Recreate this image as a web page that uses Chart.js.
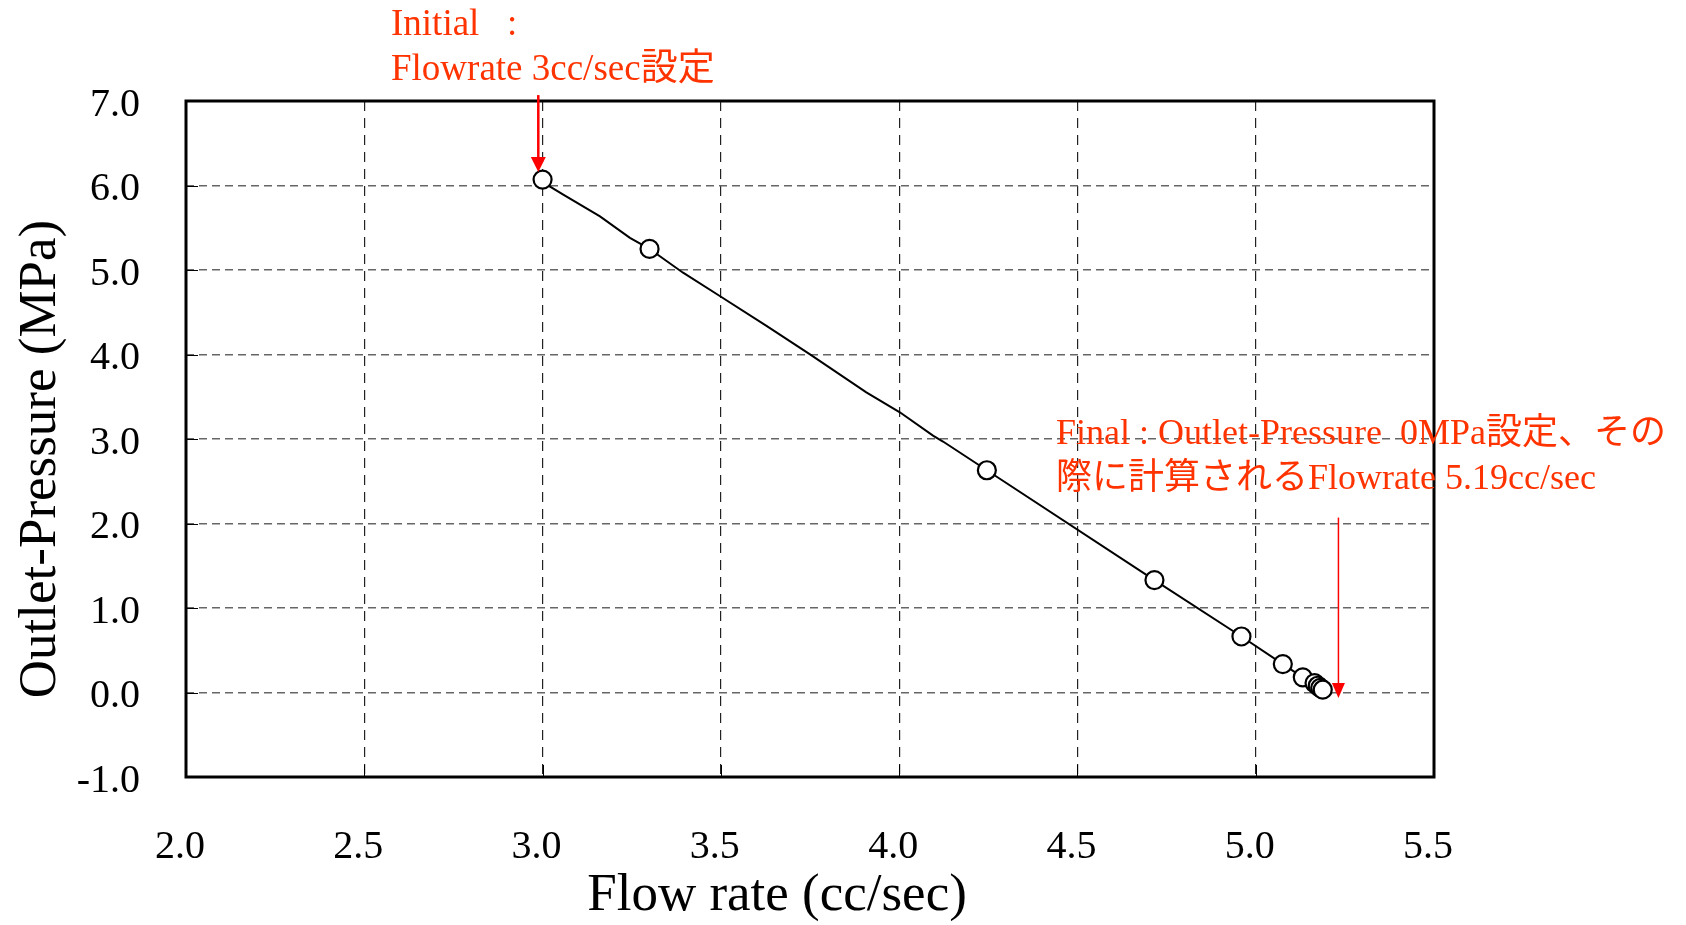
<!DOCTYPE html>
<html>
<head>
<meta charset="utf-8">
<script src="https://cdn.jsdelivr.net/npm/chart.js@4"></script>
<style>
  html, body { margin: 0; padding: 0; background: #fff; }
  #wrap { width: 1686px; height: 925px; }
</style>
</head>
<body>
<div id="wrap"><canvas id="c" width="1686" height="925"></canvas></div>
<script>
// ---- data ----
const markerX = [3.00, 3.30, 4.246, 4.716, 4.960, 5.076, 5.132, 5.165, 5.174, 5.181, 5.188];
const markerY = [6.07, 5.25, 2.63, 1.33, 0.663, 0.336, 0.179, 0.112, 0.080, 0.055, 0.033];

const curveX = [3.00, 3.020, 3.058, 3.161, 3.245, 3.30, 3.329, 3.394, 3.497, 3.628, 3.749, 3.908, 4.002, 4.095, 4.123, 4.246, 4.716, 4.960, 5.076, 5.132, 5.165, 5.174, 5.181, 5.188];
const curveY = [6.07, 5.989, 5.891, 5.635, 5.380, 5.25, 5.163, 4.968, 4.692, 4.338, 4.004, 3.552, 3.316, 3.040, 2.970, 2.63, 1.33, 0.663, 0.336, 0.179, 0.112, 0.080, 0.055, 0.033];

const xTicks = [2.0, 2.5, 3.0, 3.5, 4.0, 4.5, 5.0, 5.5];
const yTicks = [-1.0, 0.0, 1.0, 2.0, 3.0, 4.0, 5.0, 6.0, 7.0];

const xTitle = 'Flow rate (cc/sec)';
const yTitle = 'Outlet-Pressure (MPa)';
const initialText = ['Initial   :', 'Flowrate 3cc/sec設定'];
const finalText = ['Final : Outlet-Pressure  0MPa設定、その', '際に計算されるFlowrate 5.19cc/sec'];

// annotation arrows (data units)
const initialArrow = { x: 2.988, yFrom: 7.07, yTo: 6.16 };
const finalArrow = { x: 5.232, yFrom: 2.07, yTo: -0.065 };

// ---- drawing ----
const SERIF = '"Liberation Serif", "Times New Roman", "Noto Sans CJK JP", serif';
const ANNOT = '#FF3300';

function toPts(xs, ys) { return xs.map((v, i) => ({ x: v, y: ys[i] })); }

function drawArrow(ctx, x, y1, y2, lw, headW, headH) {
  ctx.save();
  ctx.strokeStyle = '#FF0000';
  ctx.fillStyle = '#FF0000';
  ctx.lineWidth = lw;
  ctx.setLineDash([]);
  ctx.beginPath();
  ctx.moveTo(x, y1);
  ctx.lineTo(x, y2 - headH + 1);
  ctx.stroke();
  ctx.beginPath();
  ctx.moveTo(x - headW / 2, y2 - headH);
  ctx.lineTo(x + headW / 2, y2 - headH);
  ctx.lineTo(x, y2);
  ctx.closePath();
  ctx.fill();
  ctx.restore();
}

const overlay = {
  id: 'overlay',
  afterDraw(chart) {
    const { ctx, chartArea: a } = chart;
    const xs = chart.scales.x, ys = chart.scales.y;
    ctx.save();
    // inward tick marks
    ctx.strokeStyle = '#000';
    ctx.lineWidth = 1;
    ctx.setLineDash([]);
    ctx.beginPath();
    xTicks.forEach(v => {
      const px = Math.round(xs.getPixelForValue(v)) + 0.5;
      ctx.moveTo(px, a.bottom); ctx.lineTo(px, a.bottom - 12);
    });
    yTicks.forEach(v => {
      const py = Math.round(ys.getPixelForValue(v)) + 0.5;
      ctx.moveTo(a.left, py); ctx.lineTo(a.left + 12, py);
    });
    ctx.stroke();
    // frame
    ctx.lineWidth = 3;
    ctx.strokeRect(a.left, a.top, a.right - a.left, a.bottom - a.top);

    // axis titles
    ctx.fillStyle = '#000';
    ctx.font = '53px ' + SERIF;
    ctx.textAlign = 'center';
    ctx.textBaseline = 'alphabetic';
    ctx.fillText(xTitle, 777, 910);
    ctx.save();
    ctx.translate(55, 459);
    ctx.rotate(-Math.PI / 2);
    ctx.fillText(yTitle, 0, 0);
    ctx.restore();

    // arrows
    drawArrow(ctx, xs.getPixelForValue(initialArrow.x), ys.getPixelForValue(initialArrow.yFrom),
              ys.getPixelForValue(initialArrow.yTo), 2.5, 15, 15);
    drawArrow(ctx, xs.getPixelForValue(finalArrow.x), ys.getPixelForValue(finalArrow.yFrom),
              ys.getPixelForValue(finalArrow.yTo), 1.5, 13, 15);

    // annotation text
    ctx.fillStyle = ANNOT;
    ctx.textAlign = 'left';
    ctx.textBaseline = 'alphabetic';
    ctx.font = '37px ' + SERIF;
    ctx.fillText(initialText[0], 391, 35);
    ctx.fillText(initialText[1], 391, 80);
    ctx.font = '36px ' + SERIF;
    ctx.fillText(finalText[0], 1056, 444);
    ctx.fillText(finalText[1], 1056, 489);
    ctx.restore();
  }
};

new Chart(document.getElementById('c'), {
  type: 'scatter',
  data: {
    datasets: [
      {
        label: 'markers',
        data: toPts(markerX, markerY),
        showLine: false,
        pointRadius: 9,
        pointHoverRadius: 9,
        pointBackgroundColor: '#fff',
        pointBorderColor: '#000',
        pointBorderWidth: 2.2,
        order: 0
      },
      {
        label: 'curve',
        data: toPts(curveX, curveY),
        showLine: true,
        borderColor: '#000',
        borderWidth: 2,
        pointRadius: 0,
        tension: 0,
        fill: false,
        order: 1
      }
    ]
  },
  options: {
    responsive: false,
    devicePixelRatio: 1,
    animation: false,
    layout: { padding: { top: 101, right: 252, left: 0, bottom: 0 } },
    plugins: { legend: { display: false }, tooltip: { enabled: false } },
    scales: {
      x: {
        type: 'linear',
        min: 2, max: 5.5,
        afterBuildTicks: s => { s.ticks = xTicks.map(v => ({ value: v })); },
        afterFit: s => { s.height = 925 - 777; s.paddingLeft = 0; s.paddingRight = 0; },
        ticks: {
          callback: v => Number(v).toFixed(1),
          font: { family: SERIF, size: 40 },
          color: '#000',
          padding: 46,
          labelOffset: -6,
          maxRotation: 0,
          autoSkip: false
        },
        grid: { color: '#222', lineWidth: 1.2, drawTicks: false },
        border: { display: false, dash: [10, 7] },
        title: { display: false }
      },
      y: {
        type: 'linear',
        min: -1, max: 7,
        afterBuildTicks: s => { s.ticks = yTicks.map(v => ({ value: v })); },
        afterFit: s => { s.width = 186; s.paddingTop = 0; s.paddingBottom = 0; },
        ticks: {
          callback: v => Number(v).toFixed(1),
          font: { family: SERIF, size: 40 },
          color: '#000',
          padding: 46,
          labelOffset: 4,
          autoSkip: false
        },
        grid: { color: '#666', lineWidth: 1.5, drawTicks: false },
        border: { display: false, dash: [8, 5] },
        title: { display: false }
      }
    }
  },
  plugins: [overlay]
});
</script>
</body>
</html>
